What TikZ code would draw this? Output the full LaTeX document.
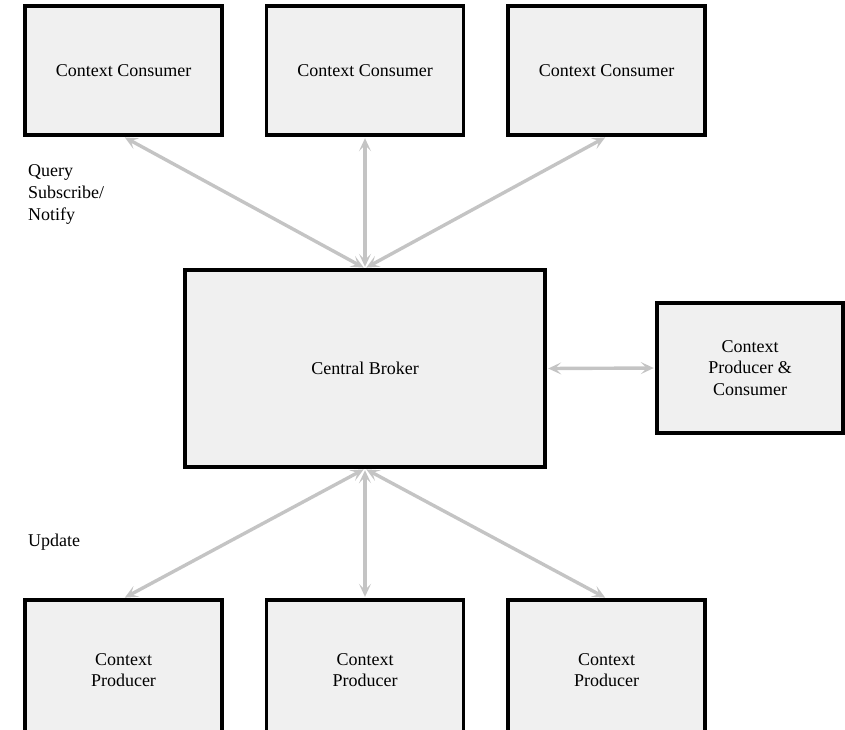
\documentclass[tikz,border=0pt]{standalone}
\usepackage{fontspec}
\setmainfont{Liberation Serif}
\usetikzlibrary{arrows.meta}
\definecolor{boxfill}{HTML}{F0F0F0}
\definecolor{linkgray}{HTML}{C4C4C4}
\begin{document}
\begin{tikzpicture}[x=1pt,y=-1pt,
  box/.style={draw=black,line width=3.4pt,fill=boxfill,align=center,inner sep=0pt,
    font=\fontsize{18}{21.5}\selectfont},
  link/.style={draw=linkgray,line width=3.4pt,{Stealth[length=13pt,width=12pt,inset=6pt]}-{Stealth[length=13pt,width=12pt,inset=6pt]},shorten <=1.5pt,shorten >=1.5pt},
  lbl/.style={anchor=north west,align=left,inner sep=0pt,font=\fontsize{18}{22}\selectfont}]
\useasboundingbox (0,0) rectangle (845,729);
% consumers along the top
\node[box,minimum width=197pt,minimum height=129pt] (c1) at (123.5,70.5) {Context Consumer};
\node[box,minimum width=197pt,minimum height=129pt] (c2) at (365,70.5) {Context Consumer};
\node[box,minimum width=197pt,minimum height=129pt] (c3) at (606.5,70.5) {Context Consumer};
% broker in the middle
\node[box,minimum width=360pt,minimum height=197pt] (cb) at (365,368.5) {Central Broker};
% combined producer/consumer on the right
\node[box,minimum width=186pt,minimum height=130pt] (pc) at (750,368) {Context\\Producer \&\\Consumer};
% producers along the bottom
\node[box,minimum width=197pt,minimum height=140pt] (p1) at (123.5,670) {Context\\Producer};
\node[box,minimum width=197pt,minimum height=140pt] (p2) at (365,670) {Context\\Producer};
\node[box,minimum width=197pt,minimum height=140pt] (p3) at (606.5,670) {Context\\Producer};
% links to and from the broker
\draw[link] (cb.north) -- (c1.south);
\draw[link] (cb.north) -- (c2.south);
\draw[link] (cb.north) -- (c3.south);
\draw[link] (cb.east) -- (pc.west);
\draw[link] (cb.south) -- (p1.north);
\draw[link] (cb.south) -- (p2.north);
\draw[link] (cb.south) -- (p3.north);
% labels
\node[lbl] (q) at (28,164) {Query\\Subscribe/\\Notify};
\node[lbl] (u) at (28,534) {Update};
\end{tikzpicture}
\end{document}
